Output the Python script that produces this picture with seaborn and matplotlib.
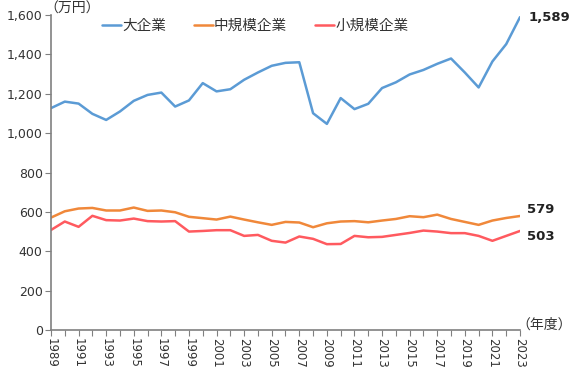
import matplotlib
matplotlib.use('Agg')
import matplotlib.pyplot as plt
import numpy as np
import pandas as pd
import seaborn as sns

# ── Data ─────────────────────────────────────────────────────
years = list(range(1989, 2024))
large = [1127, 1160, 1150, 1098, 1067, 1110, 1164, 1194, 1206, 1135,
         1166, 1254, 1212, 1223, 1271, 1308, 1342, 1357, 1360, 1101,
         1047, 1178, 1122, 1149, 1229, 1258, 1298, 1321, 1352, 1379,
         1308, 1232, 1364, 1452, 1589]
medium = [571, 603, 617, 620, 607, 607, 622, 605, 607, 598,
          575, 568, 561, 576, 561, 547, 534, 549, 546, 522,
          542, 551, 553, 547, 556, 564, 578, 573, 586, 564,
          549, 534, 556, 569, 579]
small = [508, 551, 524, 580, 558, 556, 566, 553, 551, 553,
         500, 503, 507, 507, 478, 483, 453, 444, 475, 463,
         436, 437, 478, 471, 473, 483, 493, 505, 500, 492,
         492, 478, 453, 478, 503]
series_names = ['大企業', '中規模企業', '小規模企業']
colors = ['#5B9BD5', '#F0883A', '#FF5A5F']

df = pd.DataFrame({'year': years * 3,
                   'value': large + medium + small,
                   'size': [series_names[0]] * len(years)
                           + [series_names[1]] * len(years)
                           + [series_names[2]] * len(years)})

sns.set_style('white')
plt.rcParams['font.family'] = ['DejaVu Sans', 'Noto Sans CJK JP']

fig = plt.figure(figsize=(5.73, 3.70), dpi=100)
ax = fig.add_axes([51 / 573, 40 / 370, (520 - 51) / 573, (330 - 15) / 370])

sns.lineplot(data=df, x='year', y='value', hue='size', palette=colors,
             linewidth=1.8, ax=ax)

ax.set_xlim(1989, 2023)
ax.set_ylim(0, 1600)
ax.set_yticks(range(0, 1601, 200))
ax.set_yticklabels([f'{v:,}' for v in range(0, 1601, 200)], fontsize=9, color='#333333')
ax.set_xticks(years)
ax.set_xticklabels([str(y) if (y - 1989) % 2 == 0 else '' for y in years],
                   rotation=-90, fontsize=8.5, color='#333333')
ax.tick_params(axis='both', which='major', length=4, width=0.8, color='#808080',
               direction='out', bottom=True, left=True, pad=2)
ax.set_xlabel('')
ax.set_ylabel('')

for s in ['top', 'right']:
    ax.spines[s].set_visible(False)
for s in ['left', 'bottom']:
    ax.spines[s].set_color('#808080')
    ax.spines[s].set_linewidth(1.2)

leg = ax.legend(loc='upper left', bbox_to_anchor=(0.08, 1.03), ncol=3, frameon=False,
                handlelength=1.3, handletextpad=0.1, columnspacing=1.9,
                prop={'family': ['Noto Sans CJK JP'], 'size': 10.5})
for t in leg.get_texts():
    t.set_color('#333333')

# end labels
ax.annotate(f'{large[-1]:,}', (years[-1], large[-1]), xytext=(6, 0),
            textcoords='offset points', va='center', ha='left',
            fontsize=9.5, fontweight='bold', color='#222222', annotation_clip=False)
ax.annotate(f'{medium[-1]}', (years[-1], medium[-1]), xytext=(5, 5),
            textcoords='offset points', va='center', ha='left',
            fontsize=9.5, fontweight='bold', color='#222222', annotation_clip=False)
ax.annotate(f'{small[-1]}', (years[-1], small[-1]), xytext=(5, -4),
            textcoords='offset points', va='center', ha='left',
            fontsize=9.5, fontweight='bold', color='#222222', annotation_clip=False)

fig.text(44 / 573, 1 - 9 / 370, '（万円）', family=['Noto Sans CJK JP'], fontsize=10,
         ha='left', va='center', color='#333333')
fig.text(516 / 573, 1 - 325 / 370, '（年度）', family=['Noto Sans CJK JP'], fontsize=10,
         ha='left', va='center', color='#333333')

fig.savefig('out.png', dpi=100)
